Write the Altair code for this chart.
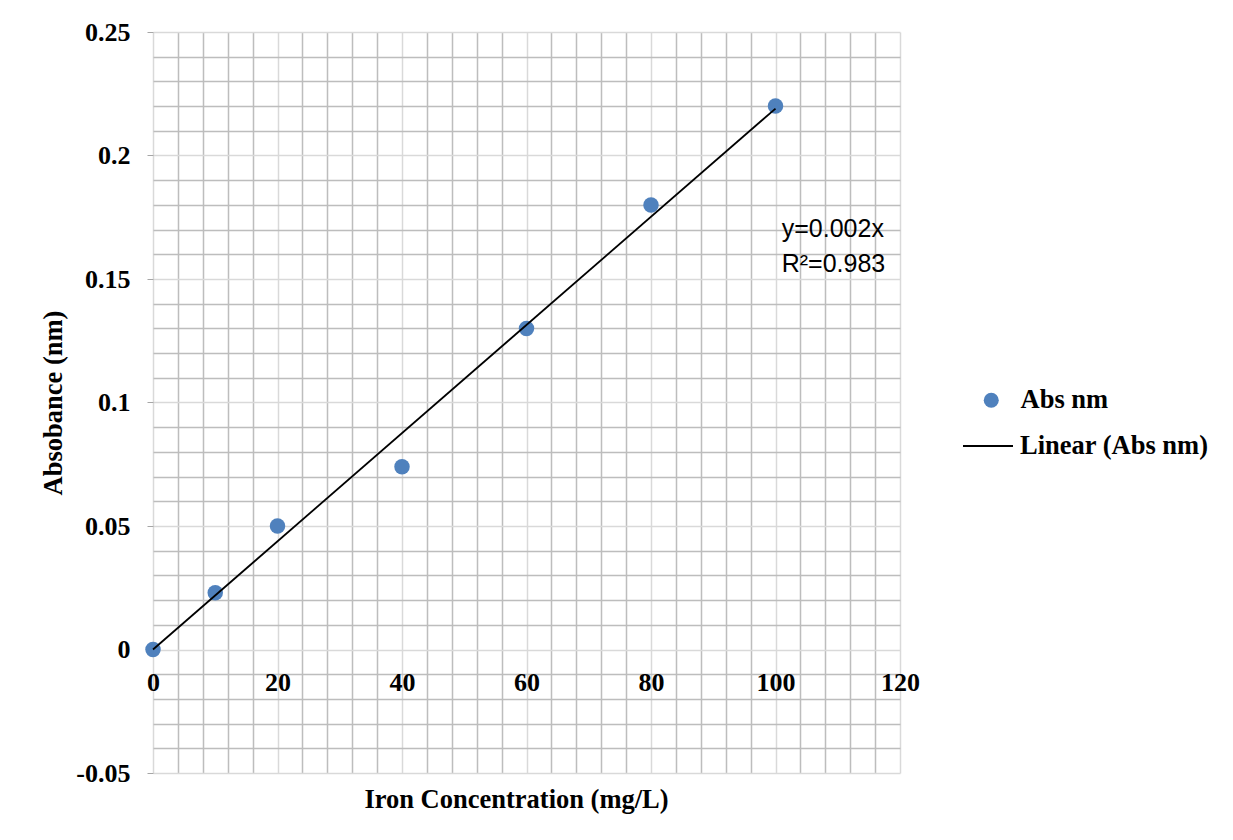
import altair as alt
import pandas as pd

# ---- data ----
conc = [0, 10, 20, 40, 60, 80, 100]
absorb = [0.0, 0.023, 0.05, 0.074, 0.13, 0.18, 0.22]
trend_x = [0, 100]
trend_y = [0.0, 0.219]
ann_text = ["y=0.002x", "R²=0.983"]
ann_x = [101, 101]
ann_y = [0.1702, 0.1562]
x_ticks = list(range(0, 121, 4))
y_ticks = [round(-0.05 + 0.01 * i, 2) for i in range(31)]

pts = pd.DataFrame({"x": conc, "y": absorb, "series": ["Abs nm"] * len(conc)})
trend = pd.DataFrame({"x": trend_x, "y": trend_y, "trend": ["Linear (Abs nm)"] * len(trend_x)})
ann = pd.DataFrame({"x": ann_x, "y": ann_y, "t": ann_text})

SERIF = "Liberation Serif"
xscale = alt.Scale(domain=[0, 120], nice=False, zero=False)
yscale = alt.Scale(domain=[-0.05, 0.25], nice=False, zero=False)

x_major = "datum.value % 20 === 0"
y_major = "abs(datum.value*20 - round(datum.value*20)) < 0.000001"

xaxis = alt.Axis(
    values=x_ticks,
    offset=-123,
    domain=False,
    ticks=False,
    labelExpr=f"{x_major} ? datum.label : ''",
    labelFlush=False,
    labelOverlap=False,
    labelFont=SERIF, labelFontWeight="bold", labelFontSize=26, labelColor="black",
    labelPadding=19,
    grid=True,
    gridColor=alt.condition(x_major, alt.value("#d9d9d9"), alt.value("#bdbdbd")),
    gridWidth=1.5,
    title="Iron Concentration (mg/L)",
    titleFont=SERIF, titleFontWeight="bold", titleFontSize=26.5, titleColor="black",
    titleX=363, titleY=157, titleAlign="center", titleBaseline="alphabetic",
)
yaxis = alt.Axis(
    values=y_ticks,
    domain=False,
    ticks=True,
    tickSize=6,
    tickColor="#a6a6a6",
    tickOpacity=alt.condition(y_major, alt.value(1), alt.value(0)),
    labelExpr=f"{y_major} ? ('' + datum.value) : ''",
    labelFlush=False,
    labelOverlap=False,
    labelFont=SERIF, labelFontWeight="bold", labelFontSize=26, labelColor="black",
    labelPadding=17,
    grid=True,
    gridColor=alt.condition(y_major, alt.value("#d9d9d9"), alt.value("#bdbdbd")),
    gridWidth=1.5,
    title="Absobance (nm)",
    titleFont=SERIF, titleFontWeight="bold", titleFontSize=26.5, titleColor="black",
    titlePadding=8,
)

points = alt.Chart(pts).mark_circle(size=240, opacity=1).encode(
    fill=alt.Fill(
        "series:N",
        scale=alt.Scale(domain=["Abs nm"], range=["#4f81bd"]),
        legend=alt.Legend(
            title=None, orient="none", legendX=825, legendY=355, padding=0,
            symbolType="circle", symbolSize=225, symbolStrokeWidth=0,
            labelFont=SERIF, labelFontWeight="bold", labelFontSize=26.5, labelColor="black",
            labelOffset=16, labelLimit=400,
        ),
    ),
)

line = alt.Chart(trend).mark_line(color="black", strokeWidth=1.8).encode(
    stroke=alt.Stroke(
        "trend:N",
        scale=alt.Scale(domain=["Linear (Abs nm)"], range=["black"]),
        legend=alt.Legend(
            title=None, orient="none", legendX=809, legendY=388, padding=0,
            symbolType="stroke", symbolSize=2500, symbolStrokeWidth=2,
            labelFont=SERIF, labelFontWeight="bold", labelFontSize=26.5, labelColor="black",
            labelOffset=6, labelLimit=400,
        ),
    ),
)

text = alt.Chart(ann).mark_text(
    align="left", baseline="middle", font="Liberation Sans", fontSize=25, color="black"
).encode(
    text="t:N",
)

chart = alt.layer(points, line, text).encode(
    x=alt.X("x:Q", scale=xscale, axis=xaxis),
    y=alt.Y("y:Q", scale=yscale, axis=yaxis),
).properties(
    width=747,
    height=741,
    autosize=alt.AutoSizeParams(type="none"),
    padding={"left": 145, "top": 24, "right": 325, "bottom": 59},
    background="white",
).configure_view(stroke=None)

chart.save("out.html", embed_options={"renderer": "svg", "actions": False})
